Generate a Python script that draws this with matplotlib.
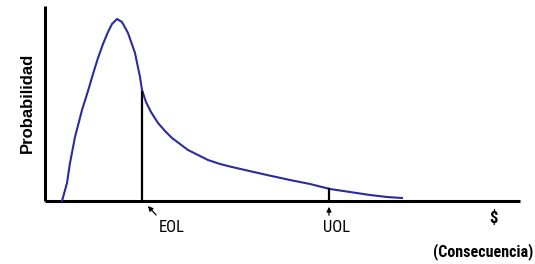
import numpy as np
import matplotlib.pyplot as plt
from matplotlib import font_manager

# curve (consequence, probability)
conseq = [62, 67, 70, 75, 82, 88, 93, 98, 103, 108, 112, 117, 122, 128, 135, 140, 142,
          146, 151, 158, 165, 172, 180, 188, 198, 208, 220, 232, 245, 267, 290,
          310, 330, 350, 370, 387, 402]
prob = [0, 18, 38, 64, 91, 110, 127, 143, 157, 169, 177, 182, 179, 168, 148, 124, 111,
        99, 89, 78, 70, 63, 57, 51, 46, 41, 37, 34, 31, 26, 21,
        17, 12, 9, 6, 4, 3]

eol_x, eol_y = 142, 109
uol_x, uol_y = 329, 12
x_end = 520
y_top = 195

names = {f.name for f in font_manager.fontManager.ttflist}
narrow = 'DejaVu Sans'
for cand in ['Liberation Sans Narrow', 'DejaVu Sans Condensed', 'Roboto Condensed',
             'Open Sans Condensed', 'Noto Sans Condensed']:
    if cand in names:
        narrow = cand
        break

fig = plt.figure(figsize=(5.35, 2.64), dpi=100)
ax = fig.add_axes([0, 0, 1, 1])
ax.set_xlim(0, 535)
ax.set_ylim(-63, 201)
ax.axis('off')

# axes lines
ax.plot([45, 45], [0, y_top], color='black', lw=2.2, solid_capstyle='butt')
ax.plot([45, x_end], [0, 0], color='black', lw=2.2, solid_capstyle='butt')

ax.plot(conseq, prob, color='#2b2b9c', lw=1.5)

ax.plot([eol_x, eol_x], [0, eol_y], color='black', lw=1.6)
ax.plot([uol_x, uol_x], [0, uol_y], color='black', lw=1.6)

ax.annotate('', xy=(eol_x + 4, -3), xytext=(eol_x + 16, -16),
            arrowprops=dict(arrowstyle='-|>', color='black', lw=0.9, mutation_scale=7))
ax.annotate('', xy=(uol_x, -3), xytext=(uol_x, -17),
            arrowprops=dict(arrowstyle='-|>', color='black', lw=0.9, mutation_scale=7))

ax.text(172, -27, 'EOL', fontsize=12, family=narrow, ha='center', va='center')
ax.text(337, -27, 'UOL', fontsize=12, family=narrow, ha='center', va='center')
ax.text(493, -17, '$', fontsize=12, family=narrow, fontweight='bold', ha='center', va='center')
ax.text(483, -51, '(Consecuencia)', fontsize=11.5, family=narrow, fontweight='bold',
        ha='center', va='center')
ax.text(27, 98, 'Probabilidad', fontsize=12, family='Liberation Sans', fontweight='bold',
        rotation=90, ha='center', va='center')

fig.savefig('out.png', dpi=100)
